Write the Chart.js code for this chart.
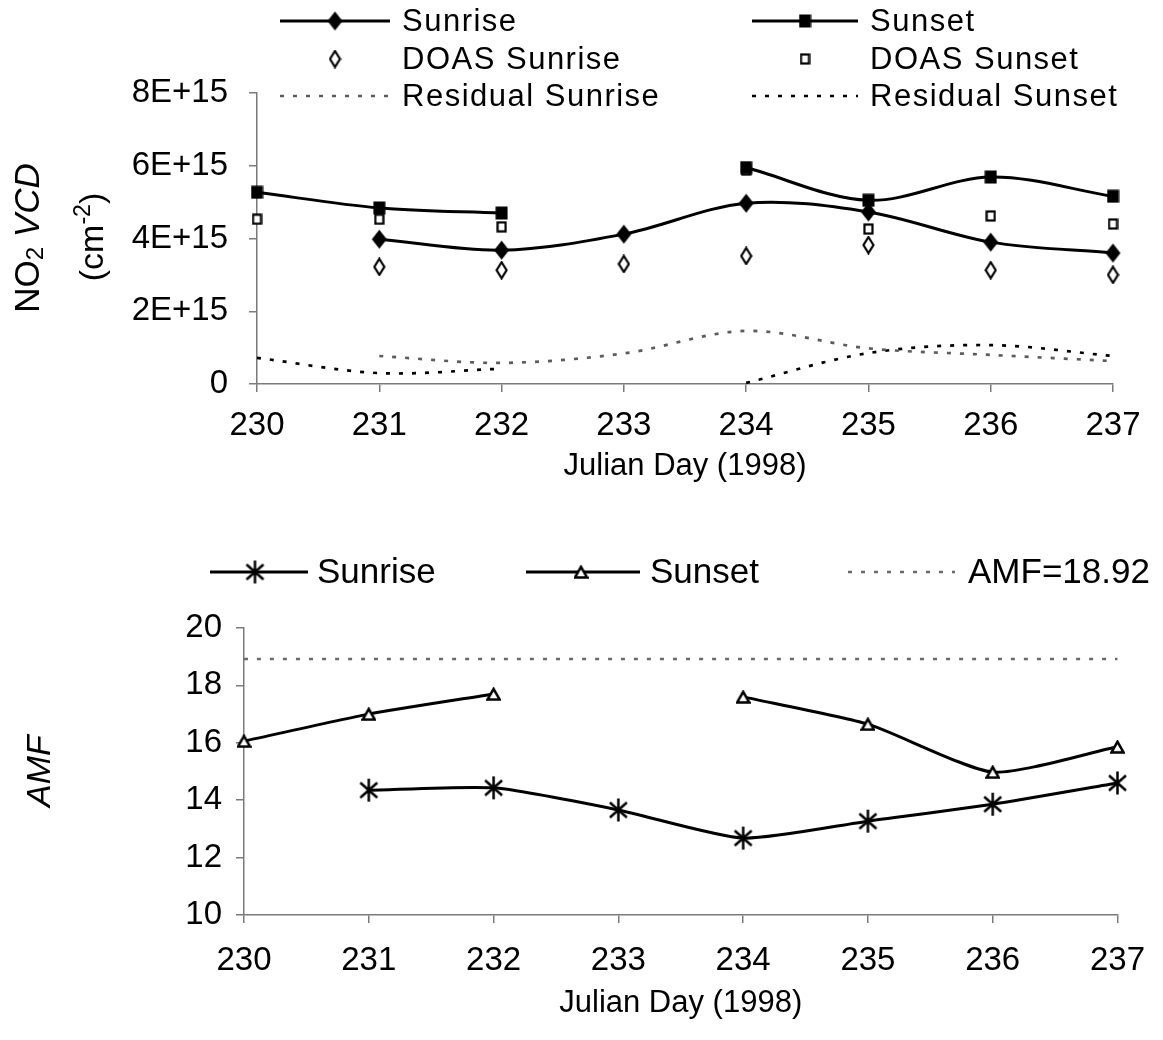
<!DOCTYPE html>
<html>
<head>
<meta charset="utf-8">
<title>NO2 VCD and AMF</title>
<script src="https://cdn.jsdelivr.net/npm/chart.js@4.4.1/dist/chart.umd.min.js"></script>
<style>
  html, body { margin: 0; padding: 0; background: #fff; }
  #wrap { position: relative; width: 1163px; height: 1040px; }
  .box { position: absolute; left: 0; width: 1163px; }
</style>
</head>
<body>
<div id="wrap">
  <div class="box" style="top:0;height:500px"><canvas id="vcd" width="1163" height="500"></canvas></div>
  <div class="box" style="top:500px;height:540px"><canvas id="amf" width="1163" height="540"></canvas></div>
</div>
<script>
// data
const julianDays = ['230', '231', '232', '233', '234', '235', '236', '237'];

const vcdSunrise      = [null, 3.98e15, 3.68e15, 4.12e15, 4.97e15, 4.73e15, 3.90e15, 3.60e15];
const vcdSunset       = [5.27e15, 4.84e15, 4.70e15, null, 5.95e15, 5.05e15, 5.69e15, 5.16e15];
const doasSunrise     = [null, 3.22e15, 3.13e15, 3.30e15, 3.52e15, 3.82e15, 3.13e15, 3.00e15];
const doasSunset      = [4.53e15, 4.53e15, 4.32e15, null, 5.88e15, 4.26e15, 4.62e15, 4.40e15];
const residualSunrise = [null, 0.77e15, 0.58e15, 0.84e15, 1.46e15, 0.98e15, 0.80e15, 0.63e15];
const residualSunset  = [0.72e15, 0.30e15, 0.42e15, null, 0.03e15, 0.85e15, 1.07e15, 0.77e15];
const vcdTickLabels   = ['0', '2E+15', '4E+15', '6E+15', '8E+15'];

const amfSunrise = [null, 14.35, 14.43, 13.66, 12.68, 13.27, 13.86, 14.60];
const amfSunset  = [16.06, 17.00, 17.70, null, 17.60, 16.65, 14.98, 15.86];
const amfFixed   = [18.92, 18.92, 18.92, 18.92, 18.92, 18.92, 18.92, 18.92];

const FONT = "'Liberation Sans', Arial, sans-serif";
const AXIS_GRAY = '#7a7a7a';
const RES_GRAY = '#5c5c5c';

// marker images
function marker(w, h, draw) {
  const c = document.createElement('canvas');
  c.width = w; c.height = h;
  const g = c.getContext('2d');
  g.strokeStyle = '#000'; g.fillStyle = '#000';
  draw(g, w, h);
  return c;
}
const mkFilledDiamond = marker(17, 21, g => {
  g.beginPath(); g.moveTo(8.5, 1); g.lineTo(16, 10.5); g.lineTo(8.5, 20); g.lineTo(1, 10.5); g.closePath(); g.fill();
});
const mkFilledSquare = marker(13, 14, g => { g.fillRect(0.5, 0.5, 12, 13); });
const mkOpenDiamond = marker(13, 19, g => {
  g.lineWidth = 2.2; g.fillStyle = '#fff';
  g.beginPath(); g.moveTo(6.5, 1.5); g.lineTo(11.5, 9.5); g.lineTo(6.5, 17.5); g.lineTo(1.5, 9.5); g.closePath();
  g.fill(); g.stroke();
});
const mkOpenSquare = marker(11, 12, g => {
  g.lineWidth = 2.2; g.fillStyle = '#fff';
  g.fillRect(1, 1, 9, 10); g.strokeRect(1.5, 1.5, 8, 9);
});
const mkAsterisk = marker(21, 25, g => {
  g.lineWidth = 2.5;
  g.beginPath();
  g.moveTo(10.5, 1); g.lineTo(10.5, 24);
  g.moveTo(2, 5); g.lineTo(19, 20);
  g.moveTo(19, 5); g.lineTo(2, 20);
  g.stroke();
});
const mkTriangle = marker(15, 14, g => {
  g.lineWidth = 2.5; g.fillStyle = '#fff';
  g.beginPath(); g.moveTo(7.5, 1.8); g.lineTo(13.5, 12.5); g.lineTo(1.5, 12.5); g.closePath();
  g.fill(); g.stroke();
});

function lineSet(label, data, img, tension) {
  return {
    label, data, borderColor: '#000', borderWidth: 3, tension, spanGaps: false,
    pointStyle: img, pointRadius: 6, clip: false, markerImg: img
  };
}
function pointSet(label, data, img) {
  return { label, data, showLine: false, pointStyle: img, pointRadius: 6, clip: false, markerImg: img };
}
function dashSet(label, data, color) {
  return {
    label, data, borderColor: color, borderWidth: 2.7, borderDash: [4, 9], tension: 0.33,
    spanGaps: false, pointRadius: 0, clip: false
  };
}

// custom legend + rotated rich y title
function drawLegend(chart, slots, font, spacing) {
  const ctx = chart.ctx;
  slots.forEach((s, i) => {
    const ds = chart.data.datasets[i];
    ctx.save();
    if (s.x0 !== undefined) {
      ctx.strokeStyle = ds.borderColor || '#000';
      ctx.lineWidth = ds.borderWidth || 3;
      ctx.setLineDash(ds.borderDash || []);
      ctx.beginPath(); ctx.moveTo(s.x0, s.y); ctx.lineTo(s.x1, s.y); ctx.stroke();
      ctx.setLineDash([]);
    }
    if (ds.markerImg) ctx.drawImage(ds.markerImg, s.mx - ds.markerImg.width / 2, s.y - ds.markerImg.height / 2);
    ctx.fillStyle = '#000';
    ctx.font = font;
    if ('letterSpacing' in ctx) ctx.letterSpacing = spacing;
    ctx.textBaseline = 'middle';
    ctx.textAlign = 'left';
    ctx.fillText(ds.label, s.tx, s.y + 1);
    ctx.restore();
  });
}
function drawRotated(ctx, segs, baseX, cy) {
  ctx.save();
  ctx.translate(baseX, cy);
  ctx.rotate(-Math.PI / 2);
  ctx.fillStyle = '#000';
  ctx.textBaseline = 'alphabetic';
  let total = 0;
  segs.forEach(s => { ctx.font = s.font; s.w = ctx.measureText(s.text).width; total += s.w; });
  let x = -total / 2;
  segs.forEach(s => { ctx.font = s.font; ctx.fillText(s.text, x, s.dy || 0); x += s.w; });
  ctx.restore();
}

const decorPlugin = {
  id: 'decor',
  afterDraw(chart, args, opts) {
    drawLegend(chart, opts.slots, opts.legendFont, opts.spacing);
    opts.titles.forEach(t => drawRotated(chart.ctx, t.segs, t.x, t.y));
  }
};

function axisX(title, height, tickPad, titlePad) {
  return {
    type: 'category', offset: false,
    grid: { drawOnChartArea: false, drawTicks: true, tickLength: 8, color: AXIS_GRAY, lineWidth: 1.5 },
    border: { color: AXIS_GRAY, width: 1.5 },
    ticks: { font: { family: FONT, size: 33 }, color: '#000', padding: tickPad, autoSkip: false, maxRotation: 0 },
    title: { display: true, text: title, color: '#000', font: { family: FONT, size: 31 }, padding: { top: 0, bottom: titlePad } },
    afterFit: s => { s.height = height; }
  };
}
function axisY(min, max, step, width, pad, cb) {
  return {
    min, max,
    grid: { drawOnChartArea: false, drawTicks: true, tickLength: 8, color: AXIS_GRAY, lineWidth: 1.5 },
    border: { color: AXIS_GRAY, width: 1.5 },
    ticks: { stepSize: step, font: { family: FONT, size: 33 }, color: '#000', padding: pad, callback: cb },
    afterFit: s => { s.width = width; }
  };
}

// top chart: NO2 VCD
new Chart(document.getElementById('vcd'), {
  type: 'line',
  data: {
    labels: julianDays,
    datasets: [
      lineSet('Sunrise', vcdSunrise, mkFilledDiamond, 0.33),
      lineSet('Sunset', vcdSunset, mkFilledSquare, 0.33),
      pointSet('DOAS Sunrise', doasSunrise, mkOpenDiamond),
      pointSet('DOAS Sunset', doasSunset, mkOpenSquare),
      dashSet('Residual Sunrise', residualSunrise, RES_GRAY),
      dashSet('Residual Sunset', residualSunset, '#000')
    ]
  },
  options: {
    responsive: false, animation: false, devicePixelRatio: 1, events: [],
    layout: { padding: { top: 93, right: 50, left: 0, bottom: 0 } },
    plugins: {
      legend: { display: false }, tooltip: { enabled: false },
      decor: {
        legendFont: '31px ' + FONT, spacing: '1.5px',
        slots: [
          { x0: 280, x1: 390, mx: 335, tx: 402, y: 21 },
          { x0: 752, x1: 858, mx: 805, tx: 870, y: 21 },
          { mx: 335, tx: 402, y: 59 },
          { mx: 805, tx: 870, y: 59 },
          { x0: 280, x1: 390, tx: 402, y: 96 },
          { x0: 752, x1: 858, tx: 870, y: 96 }
        ],
        titles: [
          { x: 39, y: 238, segs: [
            { text: 'NO', font: '35px ' + FONT },
            { text: '2', font: '24px ' + FONT, dy: 4 },
            { text: ' ', font: '35px ' + FONT },
            { text: 'VCD', font: 'italic 35px ' + FONT }
          ] },
          { x: 103, y: 237, segs: [
            { text: '(cm', font: '34px ' + FONT },
            { text: '-2', font: '23px ' + FONT, dy: -13 },
            { text: ')', font: '34px ' + FONT }
          ] }
        ]
      }
    },
    scales: {
      x: axisX('Julian Day (1998)', 116, 14, 15),
      y: axisY(0, 8e15, 2e15, 257, 21, (v, i) => vcdTickLabels[i])
    }
  },
  plugins: [decorPlugin]
});

// bottom chart: AMF
new Chart(document.getElementById('amf'), {
  type: 'line',
  data: {
    labels: julianDays,
    datasets: [
      lineSet('Sunrise', amfSunrise, mkAsterisk, 0.2),
      lineSet('Sunset', amfSunset, mkTriangle, 0.2),
      dashSet('AMF=18.92', amfFixed, '#6a6a6a')
    ]
  },
  options: {
    responsive: false, animation: false, devicePixelRatio: 1, events: [],
    layout: { padding: { top: 128, right: 45, left: 0, bottom: 0 } },
    plugins: {
      legend: { display: false }, tooltip: { enabled: false },
      decor: {
        legendFont: '35px ' + FONT, spacing: '0px',
        slots: [
          { x0: 210, x1: 308, mx: 255, tx: 317, y: 72 },
          { x0: 526, x1: 640, mx: 581, tx: 650, y: 72 },
          { x0: 848, x1: 955, tx: 968, y: 72 }
        ],
        titles: [
          { x: 50, y: 271, segs: [ { text: 'AMF', font: 'italic 34px ' + FONT } ] }
        ]
      }
    },
    scales: {
      x: axisX('Julian Day (1998)', 125, 18, 18),
      y: axisY(10, 20, 2, 244, 14)
    }
  },
  plugins: [decorPlugin]
});
</script>
</body>
</html>
